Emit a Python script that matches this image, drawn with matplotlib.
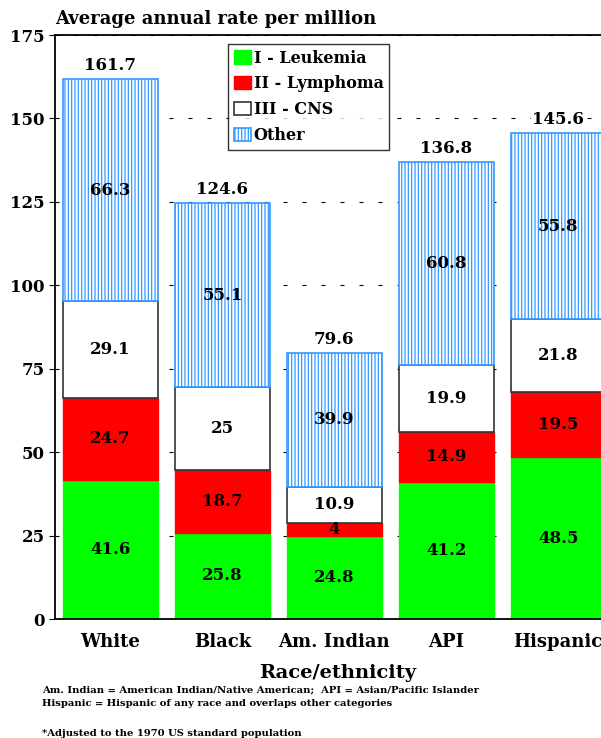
import matplotlib
matplotlib.use("Agg")
import matplotlib.pyplot as plt
import numpy as np

groups = ["White", "Black", "Am. Indian", "API", "Hispanic"]
leukemia = [41.6, 25.8, 24.8, 41.2, 48.5]
lymphoma = [24.7, 18.7, 4, 14.9, 19.5]
cns = [29.1, 25, 10.9, 19.9, 21.8]
other = [66.3, 55.1, 39.9, 60.8, 55.8]
totals = [161.7, 124.6, 79.6, 136.8, 145.6]
series_names = ["I - Leukemia", "II - Lymphoma", "III - CNS", "Other"]

plt.rcParams['font.family'] = 'DejaVu Serif'
plt.rcParams['font.weight'] = 'bold'
plt.rcParams['hatch.color'] = '#3399ff'
plt.rcParams['hatch.linewidth'] = 0.9

fig = plt.figure(figsize=(6.01, 7.38), dpi=100)
ax = fig.add_axes([55/601, 119/738, 0.949, 584/738])

x = np.arange(len(groups))
w = 0.85
series = [leukemia, lymphoma, cns, other]
styles = [
    dict(color='#00ff00', edgecolor='#00ff00'),
    dict(color='#ff0000', edgecolor='#ff0000'),
    dict(color='white', edgecolor='#333333', linewidth=1.2),
    dict(color='white', edgecolor='#3399ff', hatch='|||||', linewidth=1.2),
]
bottom = np.zeros(len(groups))
for name, vals, st in zip(series_names, series, styles):
    vals = np.array(vals, dtype=float)
    ax.bar(x, vals, w, bottom=bottom, label=name, zorder=2, **st)
    for xi, b, v in zip(x, bottom, vals):
        ax.text(xi, b + v / 2, '%g' % v, ha='center', va='center', fontsize=12,
                fontweight='bold', zorder=4)
    bottom += vals

for xi, t in zip(x, totals):
    ax.text(xi, t + 1.5, '%.1f' % t, ha='center', va='bottom', fontsize=12,
            fontweight='bold', zorder=4,
            bbox=dict(facecolor='white', edgecolor='none', pad=1))

ax.set_xlim(-0.495, 4.6)
ax.set_ylim(0, 175)
ax.set_yticks(range(0, 176, 25))
ax.set_xticks(x)
ax.set_xticklabels(groups, fontsize=13, fontweight='bold')
ax.tick_params(axis='y', labelsize=12, direction='out', length=4, width=0.8)
ax.tick_params(axis='x', length=0, pad=10)
for lab in ax.get_yticklabels():
    lab.set_fontweight('bold')
ax.yaxis.grid(True, linestyle=(0, (3.6, 13.5)), color='black', linewidth=0.8, zorder=0)
ax.set_axisbelow(True)
ax.spines['right'].set_visible(False)
for s in ['left', 'bottom', 'top']:
    ax.spines[s].set_linewidth(1.3)

ax.set_xlabel('Race/ethnicity', fontsize=14, fontweight='bold')
ax.xaxis.set_label_coords((338 - 55) / 601 / 0.949, -0.077)

fig.text(55/601, 1 - 19/738, 'Average annual rate per million', fontsize=13,
         fontweight='bold', va='center', ha='left')

leg = ax.legend(loc='upper left', bbox_to_anchor=(228/601, 1 - 44/738),
                bbox_transform=fig.transFigure, borderaxespad=0, frameon=True,
                fancybox=False, edgecolor='black', handlelength=1.1,
                handleheight=0.9, handletextpad=0.15, borderpad=0.35,
                labelspacing=0.55, prop=dict(size=11.5, weight='bold'))
leg.get_frame().set_linewidth(1.0)

fig.text(42/601, 1 - 690/738,
         'Am. Indian = American Indian/Native American;  API = Asian/Pacific Islander',
         fontsize=7.2, fontweight='bold', va='center')
fig.text(42/601, 1 - 704/738,
         'Hispanic = Hispanic of any race and overlaps other categories',
         fontsize=7.2, fontweight='bold', va='center')
fig.text(42/601, 1 - 733/738, '*Adjusted to the 1970 US standard population',
         fontsize=7.2, fontweight='bold', va='center')

fig.savefig('out.png', dpi=100)
